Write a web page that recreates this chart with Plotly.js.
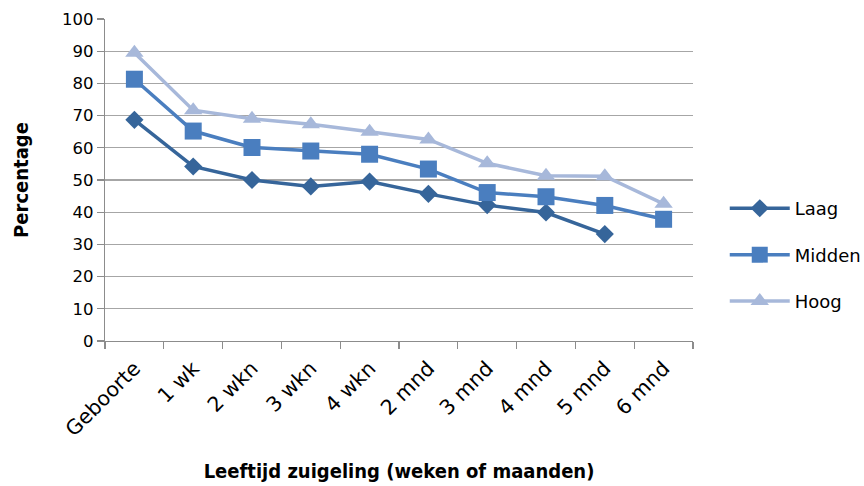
<!DOCTYPE html>
<html>
<head>
<meta charset="utf-8">
<script src="https://cdn.plot.ly/plotly-3.0.1.min.js"></script>
<style>html,body{margin:0;padding:0;background:#fff;}#chart{width:864px;height:486px;}</style>
</head>
<body>
<div id="chart"></div>
<script>
const categories = ["Geboorte", "1 wk", "2 wkn", "3 wkn", "4 wkn", "2 mnd", "3 mnd", "4 mnd", "5 mnd", "6 mnd"];
const laag   = [68.7, 54.2, 50.0, 48.0, 49.5, 45.7, 42.2, 39.9, 33.2, null];
const midden = [81.3, 65.2, 60.1, 59.0, 58.0, 53.4, 46.1, 44.8, 42.1, 37.8];
const hoog   = [89.5, 71.7, 69.0, 67.3, 65.0, 62.6, 55.2, 51.3, 51.2, 42.6];
const seriesNames = ["Laag", "Midden", "Hoog"];

const colors = ["#36659A", "#4A7EBF", "#A7B8DA"];
const symbols = ["diamond", "square", "triangle-up"];
const sizes = [14, 17, 16];
const data = [laag, midden, hoog].map((vals, i) => ({
  type: "scatter",
  mode: "lines+markers",
  name: seriesNames[i],
  legendgroup: seriesNames[i],
  x: categories,
  y: vals,
  line: {color: colors[i], width: 3.5},
  marker: {symbol: symbols[i], size: sizes[i], color: colors[i]},
  connectgaps: false
}));

const titleFont = {family: "DejaVu Sans Condensed", size: 20, color: "#000", weight: "bold"};

const layout = {
  width: 864, height: 486,
  margin: {l: 105, r: 171, t: 19, b: 145, autoexpand: false},
  paper_bgcolor: "#fff", plot_bgcolor: "#fff",
  showlegend: true,
  legend: {
    x: 1.054, xanchor: "left", y: 0.267, yanchor: "middle",
    font: {family: "DejaVu Sans", size: 18, color: "#000"},
    traceorder: "grouped", tracegroupgap: 20, itemwidth: 60
  },
  xaxis: {
    type: "category",
    range: [-0.5, 9.5],
    tickson: "boundaries",
    ticks: "outside", ticklen: 7, tickcolor: "#8c8c8c", tickwidth: 1.3,
    showline: true, linecolor: "#8c8c8c", linewidth: 1.3,
    showgrid: false,
    tickangle: -45,
    ticklabelstandoff: 6,
    tickfont: {family: "DejaVu Sans", size: 20.5, color: "#000"},
    title: {text: "Leeftijd zuigeling (weken of maanden)", standoff: 24, font: titleFont},
    fixedrange: true
  },
  yaxis: {
    range: [0, 100], dtick: 10,
    ticks: "outside", ticklen: 7, tickcolor: "#8c8c8c", tickwidth: 1.3,
    showline: true, linecolor: "#8c8c8c", linewidth: 1.3,
    showgrid: true, gridcolor: "#a6a6a6", gridwidth: 1.3,
    zeroline: false,
    tickfont: {family: "DejaVu Sans", size: 16.5, color: "#000"},
    title: {text: "Percentage", standoff: 28, font: titleFont},
    fixedrange: true
  }
};

Plotly.newPlot("chart", data, layout, {displayModeBar: false, staticPlot: true});
</script>
</body>
</html>
